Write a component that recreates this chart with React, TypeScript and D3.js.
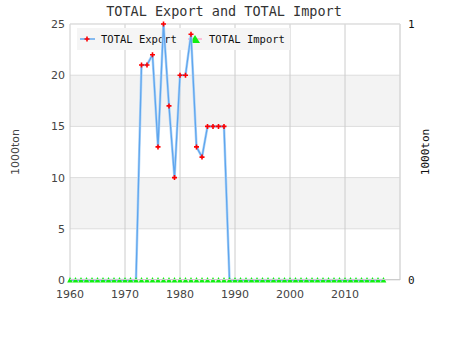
import React from "react";
import * as d3 from "d3";

const years: number[] = d3.range(1960, 2018);
const exportValues: number[] = [
  0, 0, 0, 0, 0, 0, 0, 0, 0, 0, 0, 0, 0,
  21, 21, 22, 13, 25, 17, 10, 20, 20, 24, 13, 12, 15, 15, 15, 15,
  0, 0, 0, 0, 0, 0, 0, 0, 0, 0, 0, 0, 0, 0, 0, 0, 0, 0, 0, 0, 0, 0, 0, 0, 0, 0, 0, 0, 0,
];
const importValues: number[] = years.map(() => 0);
const xTicks = [1960, 1970, 1980, 1990, 2000, 2010];
const yTicks = [0, 5, 10, 15, 20, 25];
const seriesNames = ["TOTAL Export", "TOTAL Import"];
const title = "TOTAL Export and TOTAL Import";
const unit = "1000ton";

export default function App() {
  const W = 450, H = 350;
  const left = 70, right = 400, top = 24, bottom = 280;
  const x = d3.scaleLinear().domain([1960, 2020]).range([left, right]);
  const y = d3.scaleLinear().domain([0, 25]).range([bottom, top]);
  const y2 = d3.scaleLinear().domain([0, 1]).range([bottom, top]);
  const exportData = years.map((yr, i) => ({ yr, v: exportValues[i] }));
  const importData = years.map((yr, i) => ({ yr, v: importValues[i] }));
  const line = d3.line<{ yr: number; v: number }>().x(d => x(d.yr)).y(d => y(d.v));
  const mono = "'DejaVu Sans Mono', monospace";
  const sans = "'DejaVu Sans', sans-serif";
  const plus = (cx: number, cy: number, k: string) => (
    <path key={k} d={`M${cx - 2.5},${cy}H${cx + 2.5}M${cx},${cy - 2.5}V${cy + 2.5}`} stroke="#ff0000" strokeWidth={1.6} />
  );
  const tri = (cx: number, cy: number, k: string) => (
    <path key={k} d={`M${cx},${cy - 3}L${cx + 2.8},${cy + 2.5}L${cx - 2.8},${cy + 2.5}Z`} fill="#11ee11" />
  );
  const bands: [number, number][] = [[5, 10], [15, 20]];
  return (
    <svg width={W} height={H} style={{ position: "absolute", left: 0, top: 0, background: "#fff" }}>
      <rect x={0} y={0} width={W} height={H} fill="#fff" />
      {bands.map(([a, b], i) => (
        <rect key={i} x={left} y={y(b)} width={right - left} height={y(a) - y(b)} fill="#f3f3f3" />
      ))}
      {yTicks.map(t => (
        <line key={t} x1={left} x2={right} y1={y(t)} y2={y(t)} stroke="#dddddd" strokeWidth={1} />
      ))}
      {[...xTicks, 2020].map(t => (
        <line key={t} x1={x(t)} x2={x(t)} y1={top} y2={bottom} stroke="#cccccc" strokeWidth={1} />
      ))}
      <line x1={right} x2={right} y1={top} y2={bottom} stroke="#dddddd" />
      <line x1={left} x2={right} y1={top} y2={top} stroke="#dddddd" />
      <rect x={77} y={28} width={213} height={22} fill="#f5f5f5" />
      <line x1={80} x2={95} y1={39} y2={39} stroke="#5fa6ee" strokeWidth={1.5} />
      {plus(87, 39, "lp")}
      <text x={101} y={43} fontFamily={mono} fontSize={10.5} fill="#111">{seriesNames[0]}</text>
      <line x1={188} x2={202} y1={39} y2={39} stroke="#ffaacc" strokeWidth={1.5} />
      <path d="M195,35L200,43L190,43Z" fill="#11ee11" />
      <text x={209} y={43} fontFamily={mono} fontSize={10.5} fill="#111">{seriesNames[1]}</text>
      <path d={line(exportData) || ""} fill="none" stroke="#b3d6f8" strokeWidth={2.6} strokeLinejoin="round" />
      <path d={line(exportData) || ""} fill="none" stroke="#5fa6ee" strokeWidth={1.3} strokeLinejoin="round" />
      {exportData.filter(d => d.v > 0).map(d => plus(x(d.yr), y(d.v), "p" + d.yr))}
      {importData.map(d => tri(x(d.yr), y2(d.v), "t" + d.yr))}
      <line x1={left} x2={right} y1={bottom - 0.5} y2={bottom - 0.5} stroke="#cccccc" strokeWidth={1} />
      {xTicks.map(t => (
        <text key={t} x={x(t)} y={298} textAnchor="middle" fontFamily={sans} fontSize={11} fill="#444">{t}</text>
      ))}
      {yTicks.map(t => (
        <text key={t} x={65} y={y(t) + 4} textAnchor="end" fontFamily={sans} fontSize={11} fill="#444">{t}</text>
      ))}
      <text x={408} y={28} fontFamily={mono} fontSize={11} fill="#111">1</text>
      <text x={408} y={284} fontFamily={mono} fontSize={11} fill="#111">0</text>
      <text transform={`translate(19,152) rotate(-90)`} textAnchor="middle" fontFamily={sans} fontSize={11} fill="#444">{unit}</text>
      <text transform={`translate(429,152) rotate(-90)`} textAnchor="middle" fontFamily={mono} fontSize={11} fill="#111">{unit}</text>
      <text x={224} y={16} textAnchor="middle" fontFamily={mono} fontSize={13.5} fill="#333">{title}</text>
    </svg>
  );
}
